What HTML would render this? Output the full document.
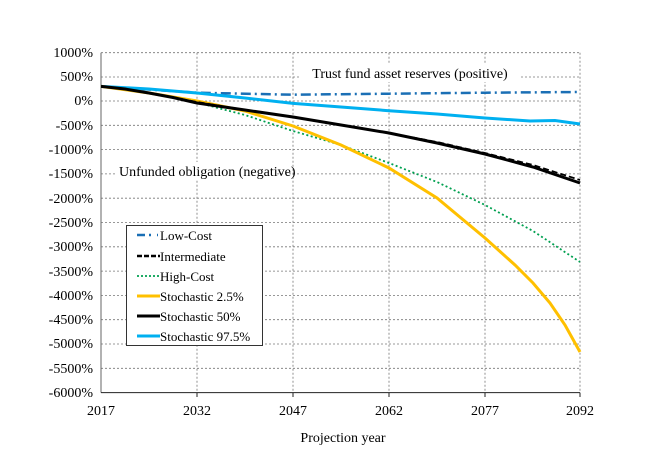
<!DOCTYPE html>
<html><head><meta charset="utf-8"><style>body{margin:0;background:#fff}</style></head><body>
<svg width="648" height="468" xmlns="http://www.w3.org/2000/svg" font-family="Liberation Serif, serif" font-size="14">
<rect width="648" height="468" fill="#fff"/>
<g stroke="#777" stroke-width="0.8" stroke-dasharray="2,2">
<line x1="101" x2="580" y1="52.7" y2="52.7"/><line x1="101" x2="580" y1="77" y2="77"/><line x1="101" x2="580" y1="101" y2="101"/>
<line x1="101" x2="580" y1="125.3" y2="125.3"/><line x1="101" x2="580" y1="149.6" y2="149.6"/><line x1="101" x2="580" y1="173.9" y2="173.9"/>
<line x1="101" x2="580" y1="198.2" y2="198.2"/><line x1="101" x2="580" y1="222.5" y2="222.5"/><line x1="101" x2="580" y1="246.8" y2="246.8"/>
<line x1="101" x2="580" y1="271.1" y2="271.1"/><line x1="101" x2="580" y1="295.4" y2="295.4"/><line x1="101" x2="580" y1="319.7" y2="319.7"/>
<line x1="101" x2="580" y1="344" y2="344"/><line x1="101" x2="580" y1="368.3" y2="368.3"/>
<line x1="197" x2="197" y1="52.7" y2="392.6"/><line x1="293" x2="293" y1="52.7" y2="392.6"/><line x1="389" x2="389" y1="52.7" y2="392.6"/><line x1="485" x2="485" y1="52.7" y2="392.6"/><line x1="580" x2="580" y1="52.7" y2="392.6"/>
</g>
<line x1="101" x2="101" y1="52.7" y2="392.6" stroke="#666"/>
<line x1="101" x2="580" y1="392.6" y2="392.6" stroke="#222"/>
<g stroke="#222"><line x1="197" x2="197" y1="392.6" y2="397"/><line x1="293" x2="293" y1="392.6" y2="397"/><line x1="389" x2="389" y1="392.6" y2="397"/><line x1="485" x2="485" y1="392.6" y2="397"/><line x1="580" x2="580" y1="392.6" y2="397"/></g>
<g text-anchor="end">
<text x="93" y="57">1000%</text><text x="93" y="81">500%</text><text x="93" y="105">0%</text><text x="93" y="130">-500%</text>
<text x="93" y="154">-1000%</text><text x="93" y="178">-1500%</text><text x="93" y="203">-2000%</text><text x="93" y="227">-2500%</text>
<text x="93" y="251">-3000%</text><text x="93" y="276">-3500%</text><text x="93" y="300">-4000%</text><text x="93" y="324">-4500%</text>
<text x="93" y="348">-5000%</text><text x="93" y="373">-5500%</text><text x="93" y="397">-6000%</text>
</g>
<g text-anchor="middle">
<text x="101" y="415">2017</text><text x="197" y="415">2032</text><text x="293" y="415">2047</text><text x="389" y="415">2062</text><text x="485" y="415">2077</text><text x="580" y="415">2092</text>
<text x="343" y="442">Projection  year</text>
</g>
<rect x="300" y="64" width="220" height="18" fill="#fff"/>
<text x="410" y="78" text-anchor="middle">Trust fund asset reserves (positive)</text>
<rect x="115" y="162" width="160" height="18" fill="#fff"/>
<text x="119" y="176">Unfunded obligation (negative)</text>
<g fill="none">
<polyline stroke="#1a6fb5" stroke-width="2.5" stroke-dasharray="10,4,2,4" points="101,86.4 197,92.7 293,94.7 389,93.7 485,92.7 580,92"/>
<polyline stroke="#00b0f0" stroke-width="3" points="101,86.4 149,89 197,93 245,98 293,103.4 341,107 389,110.7 437,114 485,118 530,121 555,120.5 580,124"/>
<polyline stroke="#00a050" stroke-width="1.8" stroke-dasharray="2,2.5" points="101,86.4 149,93 197,102.5 245,115 293,131 341,145 389,163 437,182 485,205 533,231 580,262"/>
<polyline stroke="#ffc000" stroke-width="3" points="101,86.4 149,93 197,101 245,111 293,126 341,145 389,168 437,198 485,238 515,265 533,283 550,303 565,325 580,352"/>
<polyline stroke="#000" stroke-width="1.8" stroke-dasharray="6,3" points="101,86.4 125,89 149,93 173,97.5 197,102 245,110 293,117 341,125 389,133 437,142 485,153 533,165 580,180"/>
<polyline stroke="#000" stroke-width="3" points="101,86.4 125,89 149,93 173,97.5 197,103 245,110 293,117 341,125 389,133 437,143 485,154 533,167 580,183"/>
</g>
<rect x="126.5" y="225.5" width="136" height="120" fill="#fff" stroke="#333"/>
<g stroke-width="2.5" fill="none">
<line x1="137" x2="158" y1="235" y2="235" stroke="#1a6fb5" stroke-dasharray="8,4,2,6"/>
<line x1="137" x2="160" y1="256" y2="256" stroke="#000" stroke-dasharray="5,2"/>
<line x1="137" x2="160" y1="276" y2="276" stroke="#00a050" stroke-width="1.8" stroke-dasharray="2,2"/>
<line x1="137" x2="160" y1="296" y2="296" stroke="#ffc000" stroke-width="3"/>
<line x1="137" x2="160" y1="316" y2="316" stroke="#000" stroke-width="3"/>
<line x1="137" x2="160" y1="336" y2="336" stroke="#00b0f0" stroke-width="3"/>
</g>
<g font-size="13">
<text x="160" y="240">Low-Cost</text><text x="160" y="261">Intermediate</text><text x="160" y="281">High-Cost</text>
<text x="160" y="301">Stochastic 2.5%</text><text x="160" y="321">Stochastic 50%</text><text x="160" y="341">Stochastic 97.5%</text>
</g>
</svg>
</body></html>
